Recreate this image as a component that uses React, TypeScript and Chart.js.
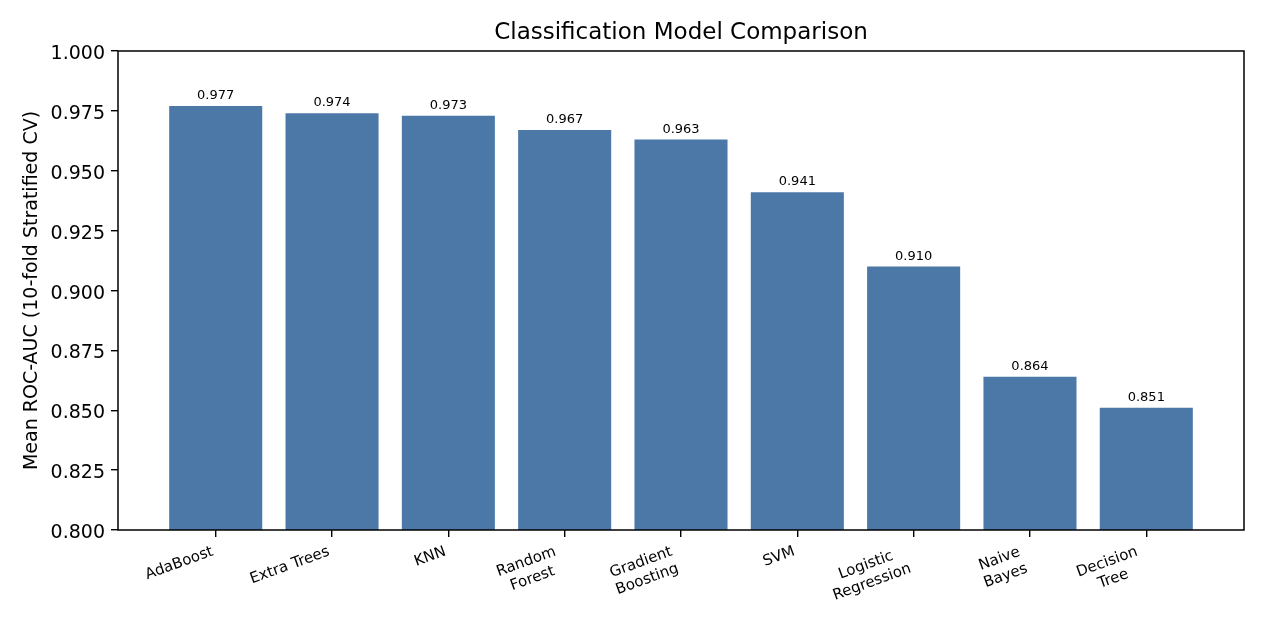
import React, { useEffect, useRef } from "react";
import { Chart, registerables } from "chart.js";

Chart.register(...registerables);

const TITLE = "Classification Model Comparison";
const Y_LABEL = "Mean ROC-AUC (10-fold Stratified CV)";
const MODELS = [
  "AdaBoost",
  "Extra Trees",
  "KNN",
  "Random Forest",
  "Gradient Boosting",
  "SVM",
  "Logistic Regression",
  "Naive Bayes",
  "Decision Tree",
];
const TICK_LINES = [
  ["AdaBoost"],
  ["Extra Trees"],
  ["KNN"],
  ["Random", "Forest"],
  ["Gradient", "Boosting"],
  ["SVM"],
  ["Logistic", "Regression"],
  ["Naive", "Bayes"],
  ["Decision", "Tree"],
];
const SCORES = [0.977, 0.974, 0.973, 0.967, 0.963, 0.941, 0.91, 0.864, 0.851];
const Y_TICKS = [0.8, 0.825, 0.85, 0.875, 0.9, 0.925, 0.95, 0.975, 1.0];

const FONT = "'DejaVu Sans', 'Liberation Sans', sans-serif";
const BAR_COLOR = "#4C78A8";

const decorPlugin = {
  id: "decor",
  afterDraw(chart: any) {
    const { ctx, chartArea, scales } = chart;
    const { left, right, top, bottom } = chartArea;
    const xs = scales.x;
    const ys = scales.y;
    ctx.save();
    // frame
    ctx.strokeStyle = "#000";
    ctx.lineWidth = 1.5;
    ctx.strokeRect(left, top, right - left, bottom - top);

    ctx.fillStyle = "#000";
    // title
    ctx.font = `23px ${FONT}`;
    ctx.textAlign = "center";
    ctx.textBaseline = "alphabetic";
    ctx.fillText(TITLE, (left + right) / 2, 39);

    // y tick labels
    ctx.font = `19px ${FONT}`;
    ctx.textAlign = "right";
    ctx.textBaseline = "alphabetic";
    Y_TICKS.forEach((v) => {
      const y = ys.getPixelForValue(v);
      ctx.fillText(v.toFixed(3), left - 13, y + 8);
    });

    // y label
    ctx.save();
    ctx.font = `19px ${FONT}`;
    ctx.translate(37, (top + bottom) / 2);
    ctx.rotate(-Math.PI / 2);
    ctx.textAlign = "center";
    ctx.textBaseline = "alphabetic";
    ctx.fillText(Y_LABEL, 0, 0);
    ctx.restore();

    // value labels
    ctx.font = `13px ${FONT}`;
    ctx.textAlign = "center";
    ctx.textBaseline = "alphabetic";
    SCORES.forEach((v, i) => {
      const x = xs.getPixelForValue(i);
      const y = ys.getPixelForValue(v) - 7;
      ctx.fillText(v.toFixed(3), x, y);
    });

    // x tick labels (rotated 20deg, right aligned, lines centred)
    const fs = 15;
    const theta = (20 * Math.PI) / 180;
    ctx.font = `${fs}px ${FONT}`;
    ctx.textAlign = "center";
    ctx.textBaseline = "middle";
    const lineH = fs * 1.2;
    TICK_LINES.forEach((lines, i) => {
      const tx = xs.getPixelForValue(i);
      const W = Math.max(...lines.map((l) => ctx.measureText(l).width));
      const H = fs * (1.17 + 1.2 * (lines.length - 1));
      const halfW = (W / 2) * Math.cos(theta) + (H / 2) * Math.sin(theta);
      const halfH = (W / 2) * Math.sin(theta) + (H / 2) * Math.cos(theta);
      const cx = tx - halfW;
      const cy = bottom + 13 + halfH;
      ctx.save();
      ctx.translate(cx, cy);
      ctx.rotate(-theta);
      lines.forEach((l, j) => {
        const ly = -((lines.length - 1) * lineH) / 2 + j * lineH;
        ctx.fillText(l, 0, ly);
      });
      ctx.restore();
    });
    ctx.restore();
  },
};

export default function App() {
  const ref = useRef<HTMLCanvasElement | null>(null);
  useEffect(() => {
    if (!ref.current) return;
    const chart = new Chart(ref.current, {
      type: "bar",
      data: {
        datasets: [
          {
            label: "Mean ROC-AUC",
            data: SCORES.map((v, i) => ({ x: i, y: v })),
            backgroundColor: BAR_COLOR,
            borderWidth: 0,
            barPercentage: 0.8,
            categoryPercentage: 1.0,
          },
        ],
      },
      options: {
        responsive: false,
        animation: false,
        layout: { padding: { top: 51, right: 21, left: 0, bottom: 0 } },
        plugins: {
          legend: { display: false },
          tooltip: { enabled: false },
          title: { display: false },
        },
        scales: {
          x: {
            type: "linear",
            offset: false,
            min: -0.84,
            max: 8.84,
            afterBuildTicks: (s: any) => {
              s.ticks = MODELS.map((_, i) => ({ value: i }));
            },
            afterFit: (s: any) => {
              s.height = 91;
            },
            grid: {
              offset: false,
              drawOnChartArea: false,
              drawTicks: true,
              tickLength: 7,
              color: "#000",
              lineWidth: 1.4,
            },
            border: { display: false },
            ticks: { display: false },
          },
          y: {
            type: "linear",
            min: 0.8,
            max: 1.0,
            afterBuildTicks: (s: any) => {
              s.ticks = Y_TICKS.map((v) => ({ value: v }));
            },
            afterFit: (s: any) => {
              s.width = 118;
            },
            grid: {
              drawOnChartArea: false,
              drawTicks: true,
              tickLength: 7,
              color: "#000",
              lineWidth: 1.4,
            },
            border: { display: false },
            ticks: { display: false },
          },
        },
      },
      plugins: [decorPlugin],
    } as any);
    return () => chart.destroy();
  }, []);
  return (
    <div style={{ position: "absolute", left: 0, top: 0, width: 1265, height: 621, background: "#fff" }}>
      <canvas ref={ref} width={1265} height={621} style={{ display: "block", width: 1265, height: 621 }} />
    </div>
  );
}
